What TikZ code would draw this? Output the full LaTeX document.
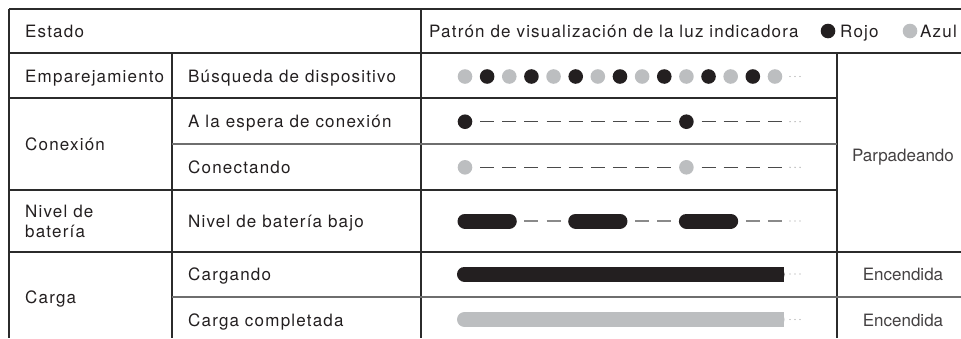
\documentclass[tikz,border=0pt]{standalone}
\usepackage{fontspec}
\setmainfont{TeX Gyre Heros}[LetterSpace=7]
\newfontfamily\plainf{TeX Gyre Heros}
\definecolor{redc}{HTML}{231F20}
\definecolor{bluec}{HTML}{BCBEC0}
\definecolor{linec}{HTML}{2B2B2B}
\definecolor{linelt}{HTML}{6E6E6E}
\definecolor{dashc}{HTML}{4A4A4A}
\definecolor{dashlt}{HTML}{8A8A8A}
\definecolor{txtc}{HTML}{231F20}
\tikzset{
  gridline/.style={line width=1.3pt, draw=linec},
  gridlt/.style={line width=1.3pt, draw=linelt},
  txt/.style={anchor=base west, inner sep=0pt, text=txtc, font=\fontsize{17}{20}\selectfont},
  statetxt/.style={anchor=base, inner sep=0pt, text=txtc!85, font=\plainf\fontsize{17}{20}\selectfont},
  dotR/.style={circle, fill=redc, inner sep=0pt, minimum size=14.6pt},
  dotB/.style={circle, fill=bluec, inner sep=0pt, minimum size=14.6pt},
  dashd/.style={line width=1.5pt, draw=dashc},
  dashg/.style={line width=2pt, draw=dashlt},
  pill/.style={line width=15pt, line cap=round, draw=redc},
  ell/.style={circle, fill=gray!80, inner sep=0pt, minimum size=1.4pt}
}
\begin{document}
\begin{tikzpicture}[x=1pt,y=-1pt]
\useasboundingbox (0,0) rectangle (961,338);
% grid
\draw[gridline] (9,9) -- (961,9);
\draw[gridline] (9,9) -- (9,338);
\draw[gridline] (9,53) -- (961,53);
\draw[gridline] (421,9) -- (421,338);
\draw[gridline] (172,53) -- (172,338);
\draw[gridline] (837,53) -- (837,338);
\draw[gridline] (9,98) -- (837,98);
\draw[gridlt] (172,144) -- (837,144);
\draw[gridline] (9,190) -- (837,190);
\draw[gridline] (9,252) -- (961,252);
\draw[gridlt] (172,297) -- (961,297);
% header
\node[txt] (hEstado) at (25,37.5) {Estado};
\node[txt] (hPatron) at (429,37.5) {Patrón de visualización de la luz indicadora};
\node[dotR] (legR) at (828,31) {};
\node[txt] (hRojo) at (840,37.5) {Rojo};
\node[dotB] (legB) at (910,31) {};
\node[txt] (hAzul) at (920,37.5) {Azul};
% column 1
\node[txt] (c1a) at (25,82) {Emparejamiento};
\node[txt] (c1b) at (25,150) {Conexión};
\node[txt] (c1c) at (25,217) {Nivel de};
\node[txt] (c1d) at (25,237) {batería};
\node[txt] (c1e) at (25,303) {Carga};
% column 2
\node[txt] (c2a) at (188,82) {Búsqueda de dispositivo};
\node[txt] (c2b) at (188,127.5) {A la espera de conexión};
\node[txt] (c2c) at (188,173.5) {Conectando};
\node[txt] (c2d) at (188,227.5) {Nivel de batería bajo};
\node[txt] (c2e) at (188,280) {Cargando};
\node[txt] (c2f) at (188,326) {Carga completada};
% column 4
\node[statetxt] (sBlink) at (903,161) {Parpadeando};
\node[statetxt] (sOn1) at (903,280.5) {Encendida};
\node[statetxt] (sOn2) at (903,326) {Encendida};
% row 1: alternating dots
\foreach \k in {0,...,14}{
  \pgfmathsetmacro{\xx}{465+22.14*\k}
  \ifodd\k
    \node[dotR] (r1d\k) at (\xx,76.5) {};
  \else
    \node[dotB] (r1d\k) at (\xx,76.5) {};
  \fi
}
% rows 2 and 3: dot, dashes, dot, dashes
\foreach \k in {1,...,9,11,12,13,14}{
  \pgfmathsetmacro{\xx}{465+22.14*\k}
  \draw[dashd] (\xx-7,121.7) -- (\xx+7,121.7);
  \draw[dashd] (\xx-7,167.3) -- (\xx+7,167.3);
}
\node[dotR] (r2a) at (465,121.7) {};
\node[dotR] (r2b) at (686.4,121.7) {};
\node[dotB] (r3a) at (465,167.3) {};
\node[dotB] (r3b) at (686.4,167.3) {};
% row 4: pills and dashes
\foreach \s in {0,5,10}{
  \pgfmathsetmacro{\xa}{465+22.14*\s}
  \pgfmathsetmacro{\xb}{465+22.14*(\s+2)}
  \draw[pill] (\xa,221) -- (\xb,221);
}
\foreach \k in {3,4,8,9,13,14}{
  \pgfmathsetmacro{\xx}{465+22.14*\k}
  \draw[dashg] (\xx-7,221) -- (\xx+7,221);
}
% rows 5 and 6: bars
\draw[line width=15pt, line cap=round, draw=redc] (464.5,274) -- (777,274);
\fill[redc] (776,266.5) rectangle (784,281.5);
\draw[line width=15pt, line cap=round, draw=bluec] (464.5,319.5) -- (777,319.5);
\fill[bluec] (776,312) rectangle (784,327);
% ellipses
\foreach \yy/\n in {76.5/a,121.7/b,167.3/c,221/d,274/e,319.5/f}{
  \foreach \xx/\m in {790/1,795/2,800/3}{
    \node[ell] (e\n\m) at (\xx,\yy) {};
  }
}
\end{tikzpicture}
\end{document}
